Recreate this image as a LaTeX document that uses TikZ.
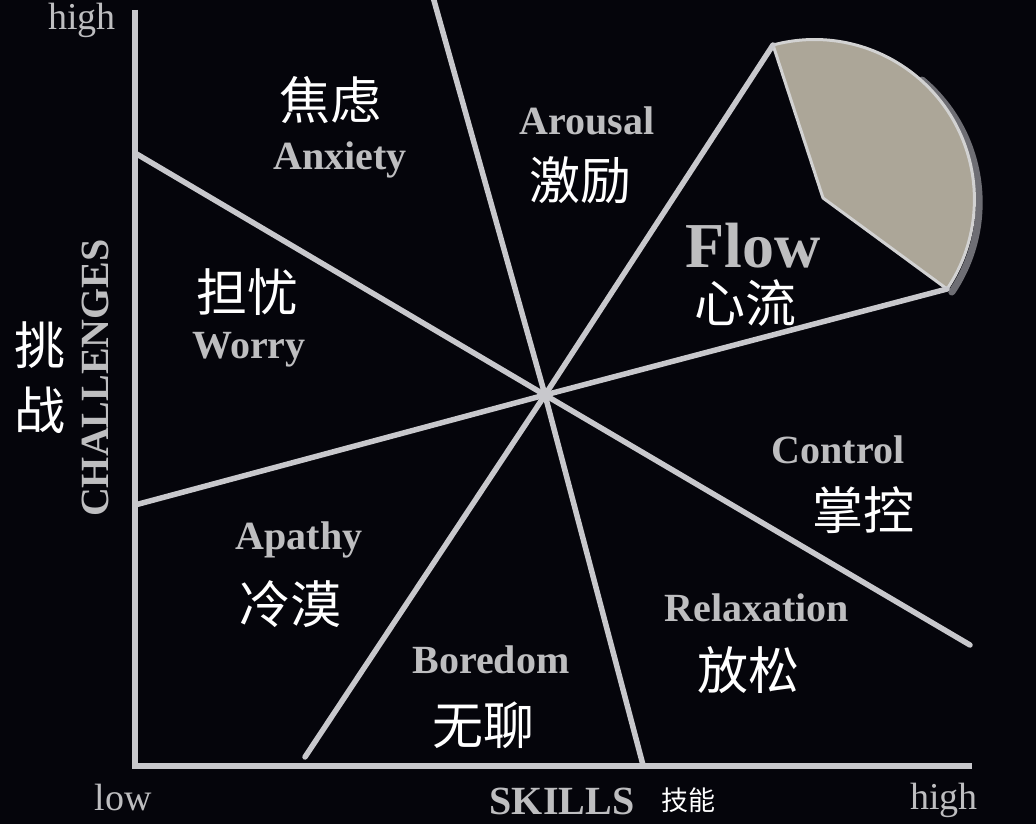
\documentclass[tikz,border=0pt]{standalone}
\usepackage{fontspec}
\setmainfont{Liberation Serif}
\newfontfamily\cjk{Noto Sans CJK SC}
\definecolor{bg}{RGB}{5,5,11}
\definecolor{linec}{RGB}{200,200,204}
\definecolor{entext}{RGB}{190,190,192}
\definecolor{wedgefill}{RGB}{172,166,152}
\definecolor{wedgeedge}{RGB}{210,210,210}
\definecolor{shadowc}{RGB}{110,110,116}
\tikzset{
  sector/.style={draw=linec, line width=5.5pt, line cap=round},
  axisline/.style={draw=linec, line width=6pt},
  en/.style={text=entext, font=\bfseries\fontsize{40}{42}\selectfont, inner sep=0pt},
  zh/.style={text=white, font=\cjk\fontsize{51}{53}\selectfont, inner sep=0pt},
  tick/.style={text=entext, font=\fontsize{38}{40}\selectfont, inner sep=0pt},
}
\begin{document}
\begin{tikzpicture}[x=1pt,y=-1pt]
\fill[bg] (0,0) rectangle (1036,824);
\useasboundingbox (0,0) rectangle (1036,824);

% coordinates
\coordinate (O) at (545,395);
\coordinate (T) at (433,-3);
\coordinate (F1) at (773,45);
\coordinate (F2) at (947,289);
\coordinate (FI) at (823,198);
\coordinate (CR) at (970,645);
\coordinate (RB) at (643,765);
\coordinate (BA) at (305,757);
\coordinate (AW) at (135,505);
\coordinate (WA) at (135,153);
\coordinate (YT) at (135,10);
\coordinate (OR) at (135,766);
\coordinate (XR) at (972,766);
\coordinate (SH) at (922,80);

% flow wedge shadow and fill
\draw[shadowc, line width=7pt, line cap=round] (SH) arc[start angle=-50, end angle=34, radius=160];
\filldraw[fill=wedgefill, draw=wedgeedge, line width=3pt, line join=round]
  (FI) -- (F1) arc[start angle=-105, end angle=34, radius=160] -- cycle;

% axes
\draw[axisline] (YT) -- (OR) -- (XR);

% sector lines
\foreach \p in {T,F1,F2,CR,RB,BA,AW,WA}
  \draw[sector] (O) -- (\p);

% labels
\node[zh] (zAnx) at (330,100) {焦虑};
\node[en] (eAnx) at (340,160) {Anxiety};
\node[en] (eAro) at (587,121) {Arousal};
\node[zh] (zAro) at (580,180) {激励};
\node[en, font=\bfseries\fontsize{64}{66}\selectfont] (eFlow) at (753,246) {Flow};
\node[zh] (zFlow) at (745,303) {心流};
\node[zh] (zWor) at (247,292) {担忧};
\node[en] (eWor) at (249,350) {Worry};
\node[en] (eCon) at (838,450) {Control};
\node[zh] (zCon) at (863,510) {掌控};
\node[en] (eApa) at (299,540) {Apathy};
\node[zh] (zApa) at (290,604) {冷漠};
\node[en] (eRel) at (757,608) {Relaxation};
\node[zh] (zRel) at (748,670) {放松};
\node[en] (eBor) at (491,660) {Boredom};
\node[zh] (zBor) at (483,725) {无聊};

% axis labels
\node[zh] (zCh1) at (40,345) {挑};
\node[zh] (zCh2) at (40,410) {战};
\node[en, rotate=90] (eCh) at (95,378) {CHALLENGES};
\node[tick] (hiY) at (82,20) {high};
\node[tick] (loX) at (123,797) {low};
\node[en] (eSk) at (562,801) {SKILLS};
\node[zh, font=\cjk\fontsize{27}{29}\selectfont] (zSk) at (688,800) {技能};
\node[tick] (hiX) at (944,800) {high};
\end{tikzpicture}
\end{document}
